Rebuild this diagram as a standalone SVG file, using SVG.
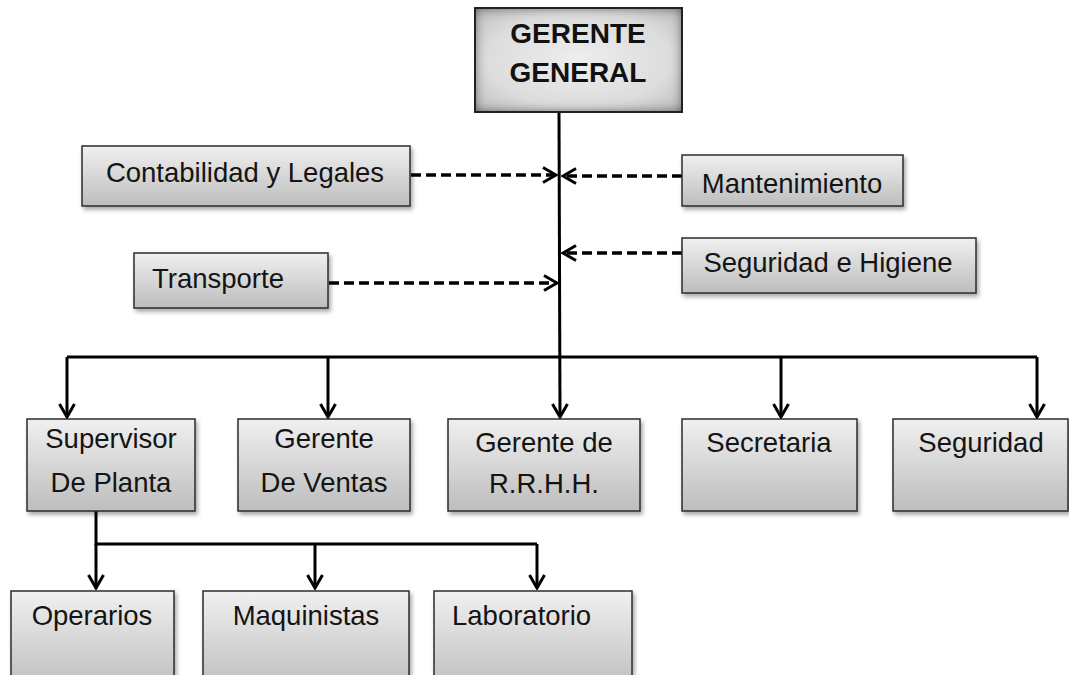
<svg xmlns="http://www.w3.org/2000/svg" width="1069" height="675" viewBox="0 0 1069 675">
<style>
.box{fill:url(#gBox);stroke:#2b2b2b;stroke-width:1.5;filter:url(#shadow)}
.t{font-family:"Liberation Sans",Arial,sans-serif;font-size:27.5px;fill:#141414}
.tb{font-family:"Liberation Sans",Arial,sans-serif;font-size:28px;font-weight:bold;fill:#111}
.c{text-anchor:middle}
.solid{fill:none;stroke:#000;stroke-width:3}
.dash{fill:none;stroke:#000;stroke-width:3.5;stroke-dasharray:10 5}
</style>
<defs>
<linearGradient id="gBox" x1="0" y1="0" x2="0" y2="1">
<stop offset="0" stop-color="#f0f0f0"/>
<stop offset="1" stop-color="#bdbdbd"/>
</linearGradient>
<radialGradient id="gTop" cx="0.5" cy="0.5" r="0.75">
<stop offset="0" stop-color="#eeeeee"/>
<stop offset="0.6" stop-color="#dcdcdc"/>
<stop offset="1" stop-color="#b5b5b5"/>
</radialGradient>
<filter id="shadow" x="-10%" y="-10%" width="125%" height="135%">
<feDropShadow dx="2" dy="3" stdDeviation="2" flood-color="#000" flood-opacity="0.35"/>
</filter>
<filter id="inner" x="-10%" y="-10%" width="120%" height="130%">
<feFlood flood-color="#000" result="f"/>
<feComposite in="f" in2="SourceAlpha" operator="out" result="o"/>
<feGaussianBlur in="o" stdDeviation="6" result="b"/>
<feComposite in="b" in2="SourceAlpha" operator="in" result="is"/>
<feMerge><feMergeNode in="SourceGraphic"/><feMergeNode in="is"/></feMerge>
</filter>
<marker id="ah" viewBox="0 0 16 18" refX="14" refY="9" markerWidth="16" markerHeight="18" markerUnits="userSpaceOnUse" orient="auto">
<path d="M1,1.5 L14,9 L1,16.5" fill="none" stroke="#000" stroke-width="3"/>
</marker>
</defs>

<g id="connectors">
<path class="solid" d="M559,112 L560,417" marker-end="url(#ah)"/>
<path class="solid" d="M67,357 L1037,357"/>
<path class="solid" d="M67,357 L67,417" marker-end="url(#ah)"/>
<path class="solid" d="M328,357 L328,417" marker-end="url(#ah)"/>
<path class="solid" d="M781,357 L781,417" marker-end="url(#ah)"/>
<path class="solid" d="M1037,357 L1037,417" marker-end="url(#ah)"/>
<path class="solid" d="M96,511 L96,544 L537,544"/>
<path class="solid" d="M96,544 L96,588" marker-end="url(#ah)"/>
<path class="solid" d="M315,544 L315,588" marker-end="url(#ah)"/>
<path class="solid" d="M537,544 L537,588" marker-end="url(#ah)"/>
<path class="dash" d="M411,175 L556,175" marker-end="url(#ah)"/>
<path class="dash" d="M329,283 L557,283" marker-end="url(#ah)"/>
<path class="dash" d="M682,176 L563,176" marker-end="url(#ah)"/>
<path class="dash" d="M682,253 L563,253" marker-end="url(#ah)"/>
</g>

<g id="gerente-general">
<rect x="475" y="8" width="207" height="104" fill="url(#gTop)" filter="url(#inner)"/>
<rect x="475" y="8" width="207" height="104" fill="none" stroke="#222" stroke-width="2"/>
<text class="tb c" x="578" y="43">GERENTE</text>
<text class="tb c" x="578" y="82">GENERAL</text>
</g>

<g id="contabilidad">
<rect class="box" x="82" y="146" width="328" height="60"/>
<text class="t c" x="245" y="182">Contabilidad y Legales</text>
</g>

<g id="transporte">
<rect class="box" x="134" y="253" width="194" height="55"/>
<text class="t" x="152" y="288">Transporte</text>
</g>

<g id="mantenimiento">
<rect class="box" x="682" y="155" width="221" height="51"/>
<text class="t c" x="792" y="193">Mantenimiento</text>
</g>

<g id="seguridad-higiene">
<rect class="box" x="682" y="238" width="294" height="55"/>
<text class="t c" x="828" y="272">Seguridad e Higiene</text>
</g>

<g id="supervisor">
<rect class="box" x="27" y="419" width="168" height="92"/>
<text class="t c" x="111" y="448">Supervisor</text>
<text class="t c" x="111" y="492">De Planta</text>
</g>

<g id="ventas">
<rect class="box" x="238" y="419" width="172" height="92"/>
<text class="t c" x="324" y="448">Gerente</text>
<text class="t c" x="324" y="492">De Ventas</text>
</g>

<g id="rrhh">
<rect class="box" x="448" y="419" width="192" height="92"/>
<text class="t c" x="544" y="452">Gerente de</text>
<text class="t c" x="544" y="493">R.R.H.H.</text>
</g>

<g id="secretaria">
<rect class="box" x="682" y="419" width="175" height="92"/>
<text class="t c" x="769" y="452">Secretaria</text>
</g>

<g id="seguridad">
<rect class="box" x="893" y="419" width="175" height="92"/>
<text class="t c" x="981" y="452">Seguridad</text>
</g>

<g id="operarios">
<rect class="box" x="11" y="591" width="163" height="100"/>
<text class="t c" x="92" y="625">Operarios</text>
</g>

<g id="maquinistas">
<rect class="box" x="203" y="591" width="206" height="100"/>
<text class="t c" x="306" y="625">Maquinistas</text>
</g>

<g id="laboratorio">
<rect class="box" x="434" y="591" width="198" height="100"/>
<text class="t" x="452" y="625">Laboratorio</text>
</g>
</svg>
